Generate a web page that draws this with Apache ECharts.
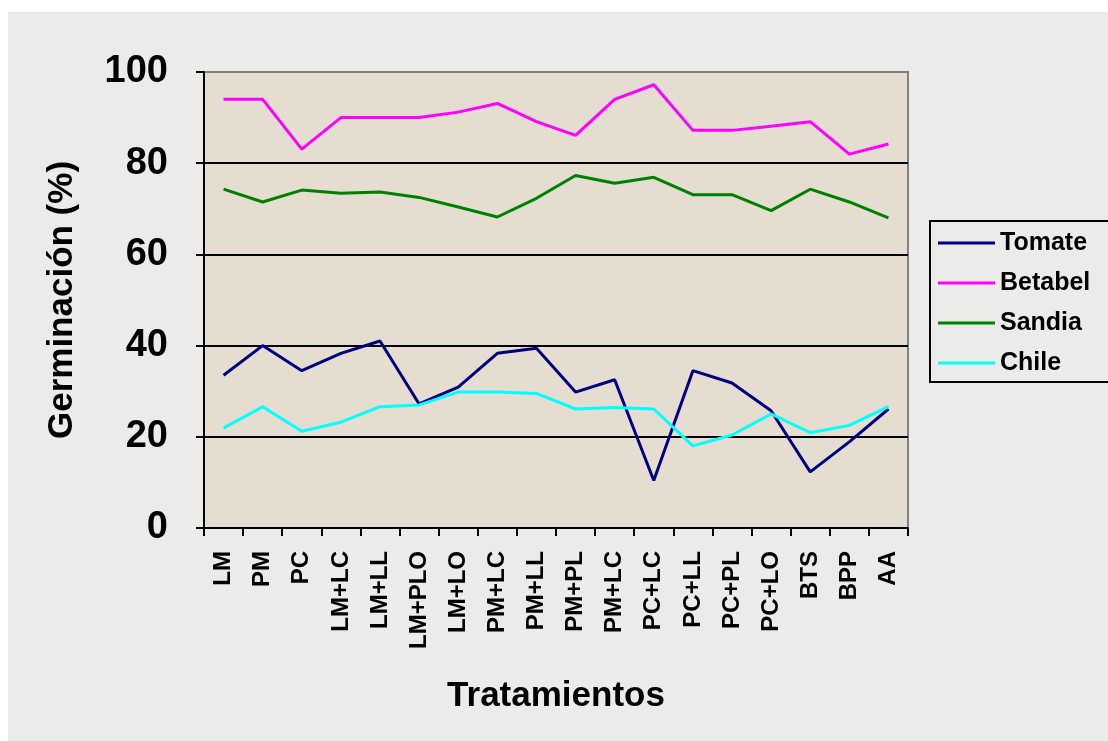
<!DOCTYPE html>
<html>
<head>
<meta charset="utf-8">
<script src="https://cdn.jsdelivr.net/npm/echarts@6/dist/echarts.min.js"></script>
<style>
  html, body { margin: 0; padding: 0; background: #ffffff; }
  #chart { width: 1108px; height: 741px; }
</style>
</head>
<body>
<div id="chart"></div>
<script>
// Treatments on the category axis
const categories = ['LM', 'PM', 'PC', 'LM+LC', 'LM+LL', 'LM+PLO', 'LM+LO', 'PM+LC', 'PM+LL',
  'PM+PL', 'PM+LC', 'PC+LC', 'PC+LL', 'PC+PL', 'PC+LO', 'BTS', 'BPP', 'AA'];

// Germination (%) per crop
const tomate  = [33.5, 40.0, 34.5, 38.3, 41.0, 27.2, 30.9, 38.3, 39.4, 29.8, 32.5, 10.4, 34.5, 31.8, 25.7, 12.3, 18.9, 26.1];
const betabel = [94.0, 94.0, 83.1, 90.0, 90.0, 90.0, 91.2, 93.1, 89.1, 86.1, 94.0, 97.2, 87.2, 87.2, 88.1, 89.1, 82.0, 84.2];
const sandia  = [74.3, 71.5, 74.1, 73.4, 73.7, 72.5, 70.4, 68.2, 72.3, 77.3, 75.6, 76.9, 73.1, 73.1, 69.6, 74.3, 71.5, 68.0];
const chile   = [21.9, 26.6, 21.2, 23.2, 26.6, 27.0, 29.8, 29.8, 29.5, 26.1, 26.4, 26.1, 18.0, 20.4, 25.0, 20.9, 22.5, 26.6];

const seriesNames = ['Tomate', 'Betabel', 'Sandia', 'Chile'];
const seriesData = [tomate, betabel, sandia, chile];
const seriesColors = ['#000080', '#ff00ff', '#008000', '#00ffff'];

const FONT = '"Liberation Sans", Arial, sans-serif';

const chart = echarts.init(document.getElementById('chart'), null, { renderer: 'canvas' });

chart.setOption({
  animation: false,
  backgroundColor: '#ffffff',
  graphic: [
    { type: 'rect', z: -10, shape: { x: 8, y: 12, width: 1100, height: 729 },
      style: { fill: '#ebebea' } },
    { type: 'rect', z: 5, shape: { x: 930, y: 221, width: 180, height: 161 },
      style: { fill: 'transparent', stroke: '#000000', lineWidth: 2 } }
  ],
  grid: {
    left: 204, top: 72, width: 704, height: 456,
    show: true, backgroundColor: '#e5ddd0', borderColor: '#808080', borderWidth: 2
  },
  legend: {
    orient: 'vertical',
    left: 933, top: 225,
    itemWidth: 57, itemHeight: 3, itemGap: 14,
    icon: 'rect',
    data: seriesNames,
    textStyle: { fontFamily: FONT, fontWeight: 'bold', fontSize: 25, color: '#000', lineHeight: 26, padding: [0, 0, 0, 0] }
  },
  xAxis: {
    type: 'category',
    data: categories,
    boundaryGap: true,
    name: 'Tratamientos',
    nameLocation: 'middle',
    nameGap: 151,
    nameTextStyle: { fontFamily: FONT, fontWeight: 'bold', fontSize: 35, color: '#000' },
    axisLine: { lineStyle: { color: '#000', width: 2 } },
    axisTick: { show: true, length: 8, lineStyle: { color: '#000', width: 2 } },
    axisLabel: {
      rotate: 90, margin: 23, interval: 0,
      fontFamily: FONT, fontWeight: 'bold', fontSize: 24, color: '#000'
    },
    splitLine: { show: false }
  },
  yAxis: {
    type: 'value',
    min: 0, max: 100, interval: 20,
    name: 'Germinación (%)',
    nameLocation: 'middle',
    nameGap: 124,
    nameTextStyle: { fontFamily: FONT, fontWeight: 'bold', fontSize: 35, color: '#000' },
    axisLine: { show: true, lineStyle: { color: '#000', width: 2 } },
    axisTick: { show: true, length: 8, lineStyle: { color: '#000', width: 2 } },
    axisLabel: { margin: 36, fontFamily: FONT, fontWeight: 'bold', fontSize: 38, color: '#000' },
    splitLine: {
      show: true,
      lineStyle: { color: ['#000', '#000', '#000', '#000', '#000', '#808080'], width: 2 }
    }
  },
  series: seriesNames.map((name, i) => ({
    name,
    type: 'line',
    data: seriesData[i],
    showSymbol: false,
    symbol: 'none',
    color: seriesColors[i],
    lineStyle: { width: 3, color: seriesColors[i] },
    z: 3
  }))
});
</script>
</body>
</html>
